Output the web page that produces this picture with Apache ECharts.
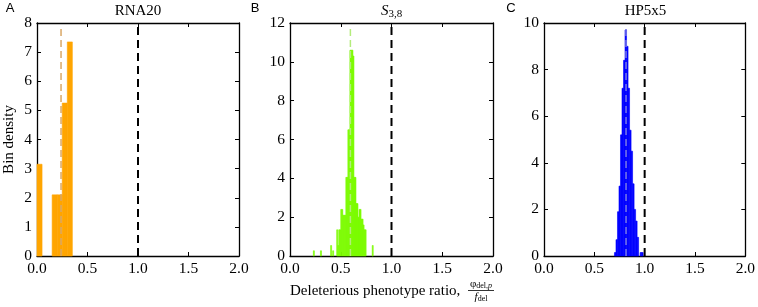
<!DOCTYPE html>
<html>
<head>
<meta charset="utf-8">
<script src="https://cdn.jsdelivr.net/npm/echarts@6/dist/echarts.min.js"></script>
<style>
  html, body { margin: 0; background: #fff; }
  #viz { width: 758px; height: 307px; }
</style>
</head>
<body>
<div id="viz"></div>
<script>
// panel A: RNA20
const rnaLeft = [0.0, 0.15, 0.2, 0.25, 0.3]
const rnaHeight = [3.15, 2.1, 2.1, 5.25, 7.35]
const rnaBin = 0.05
const rnaMean = [0.238, 7.85] // x, top of dashed line

// panel B: S3,8
const sLeft = [0.23, 0.30, 0.40, 0.42, 0.46, 0.47, 0.48, 0.49, 0.50, 0.51, 0.52, 0.53, 0.54,
  0.55, 0.56, 0.57, 0.58, 0.59, 0.60, 0.61, 0.62, 0.63, 0.64, 0.65, 0.66, 0.67, 0.68,
  0.69, 0.70, 0.71, 0.72, 0.73, 0.74, 0.81]
const sHeight = [0.27, 0.27, 0.54, 0.27, 1.35, 0.54, 1.35, 1.35, 2.4, 2.4, 2.1, 2.1, 2.1,
  4.05, 4.05, 6.5, 6.5, 10.6, 10.6, 10.6, 10.3, 4.05, 4.05, 2.7, 2.7, 2.0, 2.4,
  2.4, 1.9, 1.9, 1.6, 1.35, 1.35, 0.54]
const sBin = 0.01
const sMean = [0.595, 11.7]

// panel C: HP5x5
const hpLeft = [0.700, 0.715, 0.730, 0.745, 0.760, 0.775, 0.790, 0.805, 0.820, 0.835,
  0.850, 0.865, 0.880, 0.895, 0.910, 0.925, 0.955, 0.970]
const hpHeight = [0.15, 0.7, 1.9, 3.0, 5.2, 7.2, 8.4, 9.7, 9.0, 7.2,
  5.4, 4.5, 3.1, 2.0, 1.5, 0.8, 0.15, 0.15]
const hpBin = 0.015
const hpMean = [0.815, 9.8]

const xTicks = ['0.0', '0.5', '1.0', '1.5', '2.0']
const titles = ['RNA20', 'S3,8', 'HP5x5']
const letters = ['A', 'B', 'C']
const yMax = [8, 12, 10]
const yStep = [1, 2, 2]

const serif = 'Liberation Serif'
const grids = [
  { left: 37, top: 23, width: 202, height: 233 },
  { left: 290, top: 23, width: 203, height: 233 },
  { left: 544, top: 23, width: 203, height: 233 },
]

const xAxis = []
const yAxis = []
grids.forEach((g, i) => {
  const common = {
    gridIndex: i,
    type: 'value',
    min: 0,
    max: 2,
    interval: 0.5,
    splitLine: { show: false },
    axisLine: { show: true, onZero: false, lineStyle: { color: '#000', width: 1.3 } },
    axisTick: { show: true, inside: true, length: 4, lineStyle: { color: '#000' } },
  }
  xAxis.push({
    ...common,
    position: 'bottom',
    axisLabel: {
      fontFamily: serif, fontSize: 15.5, color: '#000', margin: 5,
      formatter: (v) => xTicks[Math.round(v * 2)],
    },
  })
  xAxis.push({ ...common, position: 'top', axisLabel: { show: false } })
  const ycommon = { ...common, max: yMax[i], interval: yStep[i] }
  yAxis.push({
    ...ycommon,
    position: 'left',
    axisLabel: { fontFamily: serif, fontSize: 15.5, color: '#000', margin: 5 },
    name: i === 0 ? 'Bin density' : '',
    nameLocation: 'middle',
    nameGap: 20,
    nameTextStyle: { fontFamily: serif, fontSize: 15, color: '#000' },
  })
  yAxis.push({ ...ycommon, position: 'right', axisLabel: { show: false } })
})

const hist = (i, left, height, bin, color) => ({
  type: 'custom',
  xAxisIndex: i * 2,
  yAxisIndex: i * 2,
  data: left.map((l, k) => [l, l + bin, height[k]]),
  encode: { x: [0, 1], y: 2 },
  renderItem: (params, api) => {
    const p0 = api.coord([api.value(0), api.value(2)])
    const p1 = api.coord([api.value(1), 0])
    return {
      type: 'rect',
      shape: { x: p0[0], y: p0[1], width: p1[0] - p0[0], height: p1[1] - p0[1] },
      style: { fill: color, stroke: color, lineWidth: 0.6 },
    }
  },
})

const vline = (i, x, top, color, width, dash) => ({
  type: 'line',
  xAxisIndex: i * 2,
  yAxisIndex: i * 2,
  data: [[x, 0], [x, top]],
  symbol: 'none',
  lineStyle: { color, width, type: dash },
  z: 5,
})

const series = [
  hist(0, rnaLeft, rnaHeight, rnaBin, '#ffa500'),
  hist(1, sLeft, sHeight, sBin, '#7cfc00'),
  hist(2, hpLeft, hpHeight, hpBin, '#0000ff'),
  vline(0, rnaMean[0], rnaMean[1], '#d9a766', 1.5, [7, 4]),
  vline(1, sMean[0], sMean[1], '#b4ec7c', 1.5, [7, 4]),
  vline(2, hpMean[0], hpMean[1], '#7a7ae6', 1.5, [7, 4]),
  vline(0, 1, yMax[0], '#000', 2, [8, 5]),
  vline(1, 1, yMax[1], '#000', 2, [8, 5]),
  vline(2, 1, yMax[2], '#000', 2, [8, 5]),
]

const letterX = [10, 255, 511]
const graphic = []
letters.forEach((t, i) => {
  graphic.push({
    type: 'text', x: letterX[i], y: 8,
    style: { text: t, font: '13px "Liberation Sans"', fill: '#000', align: 'center', verticalAlign: 'middle' },
  })
  const cx = grids[i].left + grids[i].width / 2
  if (i === 1) {
    graphic.push({
      type: 'text', x: cx, y: 11,
      style: {
        text: '{i|S}{s|3,8}', align: 'center', verticalAlign: 'middle',
        rich: {
          i: { fontFamily: serif, fontStyle: 'italic', fontSize: 15, fill: '#000' },
          s: { fontFamily: serif, fontSize: 11, fill: '#000', padding: [7, 0, 0, 0] },
        },
      },
    })
  } else {
    graphic.push({
      type: 'text', x: cx, y: 11,
      style: { text: titles[i], font: '15px "Liberation Serif"', fill: '#000', align: 'center', verticalAlign: 'middle' },
    })
  }
})
graphic.push({
  type: 'text', x: 290, y: 291,
  style: { text: 'Deleterious phenotype ratio,', font: '15px "Liberation Serif"', fill: '#000', verticalAlign: 'middle' },
})
graphic.push({
  type: 'text', x: 481, y: 284,
  style: {
    text: '{a|φ}{b|del,}{c|p}', align: 'center', verticalAlign: 'middle',
    rich: {
      a: { fontFamily: serif, fontSize: 11, fill: '#000' },
      b: { fontFamily: serif, fontSize: 8, fill: '#000', padding: [3, 0, 0, 0] },
      c: { fontFamily: serif, fontStyle: 'italic', fontSize: 8, fill: '#000', padding: [3, 0, 0, 0] },
    },
  },
})
graphic.push({
  type: 'line', shape: { x1: 468, y1: 290.5, x2: 494, y2: 290.5 },
  style: { stroke: '#000', lineWidth: 0.8 },
})
graphic.push({
  type: 'text', x: 481, y: 297,
  style: {
    text: '{a|f}{b|del}', align: 'center', verticalAlign: 'middle',
    rich: {
      a: { fontFamily: serif, fontStyle: 'italic', fontSize: 11, fill: '#000' },
      b: { fontFamily: serif, fontSize: 8, fill: '#000', padding: [3, 0, 0, 0] },
    },
  },
})

const chart = echarts.init(document.getElementById('viz'))
chart.setOption({
  animation: false,
  backgroundColor: '#fff',
  grid: grids,
  xAxis,
  yAxis,
  series,
  graphic,
})
</script>
</body>
</html>
